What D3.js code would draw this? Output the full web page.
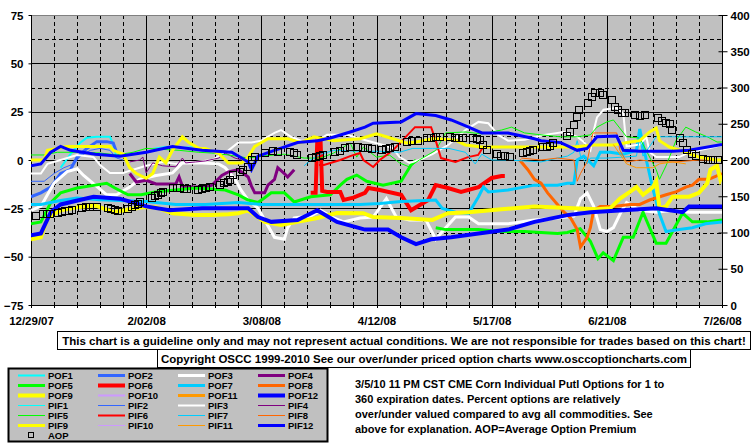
<!DOCTYPE html>
<html><head><meta charset="utf-8">
<script src="https://cdn.jsdelivr.net/npm/d3@7"></script>
<style>
body{margin:0;background:#fff}
svg{display:block}
text{font-family:"Liberation Sans",Arial,sans-serif;font-weight:bold;fill:#000}
</style>
</head><body>
<svg id="chart" width="755" height="446"></svg>
<script>
// ---------------- DATA ----------------
const startDate = new Date(2007, 11, 29);
const totalDays = 210;
const dateLabels = ["12/29/07","2/02/08","3/08/08","4/12/08","5/17/08","6/21/08","7/26/08"];
const leftTicks = [75,50,25,0,-25,-50,-75];
const rightTicks = [0,50,100,150,200,250,300,350,400];

// series values: [day offset from 12/29/07, percent]
const POF1 = [[9,-4],[12,3],[15,9],[17,11.5],[20,12],[24,12],[25,8],[26,1]];
const POF2 = [[0,-19],[3,-17],[6,-14],[9,-7],[12,-5],[14,1.5],[17,6],[20,9.5],[23,9.5],[25,8.8],[26,4]];
const POF3 = [[0,-26],[3,-24],[5,-18],[7,-12],[11,-6],[14,-4.5],[16,-8],[19.5,-13],[23,-18],[26,-18],[30,-14],[33,-10],[38,-8],[43,-6.7],[46,-1.5],[52,-1.5],[57,-2],[59,-4],[62,-10],[64,-16],[66,-20.7],[69,-25],[72,-34],[74,-40],[77,-41],[78,-35],[80,-30],[85,-29],[88,-26],[92,-30],[95,-32],[100,-30],[104,-29.5],[108,-20],[111,-29.5],[115,-31],[120,-31],[123,-41],[125,-37],[129,-29.5],[133,-29.5],[136,-33],[145,-33],[153,-31],[160,-30],[165,-29],[167,-20],[169,-17],[171,-24],[173,-36],[175,-37],[177,-35],[179,-28],[181,-22],[185,-26],[190,-27],[195,-26],[200,-27],[210,-27]];
const POF4 = [[30,-7],[32,-11.4],[35,-10.5],[38,-12.4],[44,-12.4],[45,-8.8],[46,-13.5],[48,-14],[53,-14],[55,-13],[58,-8],[60,-6.2],[63,-5],[66,-8.8],[67,-13.5],[68,-17],[71,-17],[72,-13],[74,-10],[75,-4],[77,-7],[78,-8.8],[80,-5]];
const POF5 = [[0,-33],[3,-32],[6,-22],[9,-17],[14,-14.5],[19.5,-13],[23,-12],[25.5,-14.5],[29.5,-18],[33.5,-18],[37.7,-16.5],[44,-15.5],[50,-14.5],[59,-15.5],[63,-18],[66,-20.7],[69,-22],[71,-19.5],[73,-17],[77,-17],[80,-21.7],[85,-19],[91,-18],[94,-13],[96,-10],[99,-7.8],[102,-11],[107,-13],[112.5,-11],[115.5,-2.6],[117,0],[118,null],[123,-35],[126,-36],[136,-36],[143,-37],[150,-37],[155,-37.5],[160,-38],[163,-37.5],[166.9,-35.5],[170,-42],[172.3,-51],[173.9,-48],[177,-52],[180,-40],[183,-40],[186,-27],[190,-43],[193,-43],[198,-27.5],[201,-32],[205.5,-32],[210,-31]];
const POF6 = [[85,-17],[86.5,-17],[87,10],[88,10],[88.5,-16],[90,-16.5],[94,-16.5],[95,-20.7],[98,-19.5],[101.5,-17],[102.5,-14.5],[106,-15.5],[112.5,-18],[115.5,-26],[120.7,-20.7],[123,-13],[126.7,-14.5],[130.7,-16.5],[136,-14],[140,-9.3],[143,-8.3],[144,-8.3]];
const POF7 = [[0,-23],[3,-23],[9,-21],[14,-19.7],[21,-20.5],[35,-21.5],[44,-23],[53,-23],[63,-22],[70,-23],[80,-23],[100,-23],[106,-22.5],[112.5,-21.5],[123,-20.7],[125,-25],[129,-27],[133,-27.6],[136,-19],[137.5,-14],[139,-16.5],[145,-15.5],[153,-13],[160,-13],[163,-12],[165,-12],[166,0],[168,2],[171,-3],[173,4],[176,4],[180,3],[184,5],[185,16],[187,0],[189,-15],[191,-28],[193,-37],[197,-36],[201,-35],[205,-33],[210,-32]];
const POF8 = [[148.5,0],[151,-5],[153,-10],[155,-12],[157,-17],[160,-23],[162,-27],[164,-30],[166,-36],[167,-45],[169,-40],[170,-35],[171,-26],[173,-24],[177,-24],[182,-23],[185,-23],[188,-20.7],[193,-18],[196,-16.5],[199,-14],[201,-13],[203,-10],[206,-10],[210,-7]];
const POF9 = [[0,-41],[3,-40],[5,-30],[9,-26],[14,-24.5],[19.5,-23.5],[25,-27],[30,-25.5],[34,-24.5],[38,-24.5],[43,-27.6],[50,-28.5],[55,-28.5],[60,-28],[63,-27.5],[66,-26],[71,-32],[76,-33.6],[81,-32],[87,-30],[93,-27.4],[101,-27.5],[104,-29.5],[112.5,-30],[122,-31],[126.7,-27.5],[133,-27],[143,-25.5],[153,-24],[165,-25],[172,-25.5],[176,-25],[179,-20],[182,-16.5],[184,-14],[186,-18],[189,-14],[190,-11],[191,-25],[193,-24],[195,-19],[200,-19],[203,-17],[205.5,-12],[206.5,-5],[208.5,-3],[209.5,-10],[210,-8]];
const POF10 = [];
const POF11 = [];
const POF12 = [[0,-39],[3,-38],[6,-27],[9,-23],[19,-19],[27,-20],[35,-24],[42,-26],[52,-25],[66,-25],[69,-29.5],[73,-32],[81,-31],[87,-26],[93,-32],[101.5,-36],[108.5,-36],[112.5,-40],[117,-43.5],[121.6,-41],[127.7,-40],[136,-38],[145,-36],[153,-32],[163,-28.5],[170,-27],[180,-26],[190,-25],[198,-27],[200,-24],[210,-24]];

const PIF1 = [[37,6],[41,7],[46,6.5],[50,7]];
const PIF2 = [[0,-11],[4,-11],[7,-7],[10,-4],[13,-2],[15,2],[18,5],[21,6],[24,5],[26,1],[28,0]];
const PIF3 = [[0,-7],[3,-7],[5,-2],[9,0],[14,2.6],[19,1.5],[21,-2.6],[24,-6.7],[28,-6.7],[31,-5],[35,-3],[40,-1],[44,-2],[50,-1],[55,0],[60,5],[63,9],[67,9],[70,10],[74,14],[76,15.5],[79,12],[82,10],[87,10],[90,13],[96,13],[100,11],[107,7.8],[110,6],[112,1.5],[115,-1.5],[118,0],[122,3],[127,8],[132,15.5],[136,19.7],[139,19],[142,13],[145,10],[150,10.5],[156,13],[162,14.5],[166,12],[168,9.3],[170,5],[171,15],[172,22],[174,26],[178,27],[180,24],[181,7],[185,8],[187,12],[188,4],[190,1.5],[197,1.5],[200,4],[203,5],[207,6.5],[210,7.8]];
const PIF4 = [[30,-1],[33,0],[34,1.5],[35,-6.7],[36,-4],[37,-1.5],[40,-3],[44,-3.5],[46,1],[47,-1.5],[50,-1],[53,-0.5],[57,1],[59,3.6],[62,1],[64,0]];
const PIF5 = [[0,2.6],[4,2.6],[8,4],[16,4],[21,3.6],[26,2.6],[31,4],[35,6],[45,5],[51,4],[55,3.6],[60,2.6],[66,1],[70,2],[77,3],[83,1],[88,1],[92,3.6],[97,8.8],[99,1.5],[101,6.7],[105,1.5],[109,2.5],[112,-1.5],[115,-3.6],[118,0],[123,5],[126,14],[132,14.5],[137,13.5],[143,15.5],[146,17],[150,14],[155,13],[161,12],[166,12],[170,13],[172,17],[175,19.7],[177,20.7],[181,12],[185,11.4],[188,1.5],[190,-5],[191,-10],[193,-3],[196,10],[199,17],[202,14.5],[205.5,12],[208.5,9.3],[210,9.3]];
const PIF6 = [[87.5,-2.6],[89,-2.6],[94,0],[97,2],[100,3.6],[101,0],[104,-3.6],[106,0],[110,5],[116.7,17],[121.6,17],[123,10],[124.6,1],[129,-1],[132.8,1.5],[135.9,2.6],[137.4,6.7]];
const PIF7 = [[83,-3],[85,0],[88,3],[92,5],[100,4.5],[106,4.5],[112,4],[116,6],[122,6],[127,6],[132,4],[135,-2],[137,3],[140,0],[145,0],[150,-0.5],[155,-1],[160,1],[163,2],[165,4],[166,10],[167,2],[169,-2],[170,1],[175,1],[180,1.5],[184,2],[185,12],[186,2],[190,12],[195,12],[200,12],[205,12],[210,12]];
const PIF8 = [[149,1],[155,0],[160,1],[165,0],[166,-11],[167,-7],[169,-1],[170.8,14],[178,14],[179,5],[181,-1],[185,0],[190,-1],[196,-1],[203,0],[210,0]];
const PIF9 = [[0,0],[4,0],[5,5],[11,7],[24,7],[25,5],[28,3],[30,-4],[32,-7],[35,-9.5],[37,-7],[39,1.5],[41,-1.5],[43,5],[46,12],[48,9],[51,6],[53,6],[57,3.5],[60,-1.6],[64,-1.6],[66,1.5],[68,7],[72,11],[78,11],[82,9],[86,12],[92,10],[100,11],[105,13.5],[109,11.5],[114,8.8],[117,9.3],[122,11],[129,10.3],[132,7.8],[137,6.7],[145,6.7],[165,6.7],[171,7.8],[177,7.8],[182,9.3],[185,10],[188,14.5],[190,16.5],[191,10],[194,6.7],[199,4],[203,1.5],[208,0],[210,0]];
const PIF10 = [];
const PIF11 = [[177,8],[179,3],[181,-2],[184,-4],[189,-4],[191,-2],[195,-1],[199,-2]];
const PIF12 = [[0,-3],[3,-2],[6,4],[9,7],[12,5],[19.5,3],[27,2],[35,4],[43,7],[52,5],[61,4],[64,1],[66,-1],[67,-5],[69,2],[74,5],[81,9],[87,10],[91,11.4],[97,14.5],[101.5,17],[104,19],[112.5,19.7],[117,24],[123,23],[127.7,20.7],[133,17],[137,14],[145,14],[153,11],[155,10],[161,9],[166,5],[169,6],[172,12],[178,12.4],[180,5],[185,4.5],[195,4.5],[200,5],[210,8]];

// Average option premium (right axis)
const aopDays = [1.5,3.6,4.9,5.8,8.2,9.4,10.3,11.5,12.5,15.5,16.7,17.9,20,23.4,24.3,25.5,26.4,29.5,30.7,31.6,32.5,33.1,36.8,37.7,38.6,39.5,40.1,43.2,44.4,45.3,46.5,47.4,50.8,52,53.2,54.4,57.4,58.7,59.9,60.5,61.4,63.5,64.4,66,67.2,68.1,71.1,73.6,75,78.7,80,80.9,85.4,86.6,87.8,88.8,92.4,93.9,95.4,97,99.4,100.9,102.4,103.6,106.7,107.9,109.1,110.6,114.3,115.8,117.6,120.4,121.6,123.1,124.3,127.4,128.9,130.1,131.3,134.3,135.6,136.5,137.4,138.6,141.6,142.9,144.1,145.6,149.5,150.7,151.7,152.6,155.6,156.8,157.7,158.6,162.9,163.8,165,166,166.6,169.3,170.5,171.4,172.9,173.8,176.6,177.5,178.4,179.6,180.5,183.6,185.1,186.6,190.6,191.8,193,194.2,194.8,197.3,198.2,199.4,200.9,202.1,204.3,205.8,207.3,208.8];
const aopValues = [123,125,125,125,127,128,129,130,131,134,135,135,135,134,132,131,130,133,135,138,140,142,148,150,152,154,156,161,161,161,160,160,159,160,161,163,165,168,170,172,179,183,186,190,200,204,210,213,211,211,209,207,203,204,205,207,211,213,216,218,218,217,216,215,214,215,217,218,225,226,226,230,231,232,232,232,231,231,231,230,229,228,221,214,208,206,205,204,210,211,213,214,218,218,219,223,233,239,248,260,269,279,287,292,292,290,283,273,269,265,265,262,261,262,258,254,251,250,241,230,223,214,208,205,201,200,200,200];

const seriesNames = ["POF1","POF2","POF3","POF4","POF5","POF6","POF7","POF8","POF9","POF10","POF11","POF12",
                     "PIF1","PIF2","PIF3","PIF4","PIF5","PIF6","PIF7","PIF8","PIF9","PIF10","PIF11","PIF12"];
const seriesData = [POF1,POF2,POF3,POF4,POF5,POF6,POF7,POF8,POF9,POF10,POF11,POF12,
                    PIF1,PIF2,PIF3,PIF4,PIF5,PIF6,PIF7,PIF8,PIF9,PIF10,PIF11,PIF12];

const disclaimer = "This chart is a guideline only and may not represent actual conditions. We are not responsible for trades based on this chart!";
const copyright = "Copyright OSCC 1999-2010 See our over/under priced option charts www.osccoptioncharts.com";
const noteLines = ["3/5/10 11 PM CST CME Corn Individual Putl Options for 1 to",
                   "360 expiration dates. Percent options are relatively",
                   "over/under valued compared to avg all commodities. See",
                   "above for explanation. AOP=Average Option Premium"];

// ---------------- STYLE ----------------
const palette = ["#00ffff","#3366ff","#ffffff","#800080","#00ff00","#ff0000","#00ccff","#ff6600","#ffff00","#cc99ff","#ff9900","#0000ff"];
const pofWidth = [2,3,3,3,3,4,3,3,4,2,3,4];
const pifWidth = [1,1,2,1,1,2,1,1,3,1,1,3];

// ---------------- CHART ----------------
const svg = d3.select("#chart");
const L = 31, R = 722, T = 15, B = 305;
const dayDate = d => new Date(startDate.getTime() + d * 86400000);
const x = d3.scaleTime().domain([startDate, dayDate(totalDays)]).range([L, R]);
const xd = d => x(dayDate(d));
const y = d3.scaleLinear().domain([-75, 75]).range([B, T]);
const yR = d3.scaleLinear().domain([0, 400]).range([B, T]);

// fit a text to a target width by shrinking the font if needed
function fitText(sel, target, maxFs) {
  sel.attr("font-size", maxFs);
  const w = sel.node().getComputedTextLength();
  if (w > target) sel.attr("font-size", (maxFs * target / w).toFixed(2));
  return sel;
}

svg.append("rect").attr("x", L).attr("y", T).attr("width", R - L).attr("height", B - T).attr("fill", "#c0c0c0");

// grid
const g = svg.append("g").attr("shape-rendering", "crispEdges");
d3.range(-62.5, 75, 12.5).forEach(v => {
  const solid = Math.abs(v % 25) < 1e-9;
  g.append("line").attr("x1", L).attr("x2", R).attr("y1", Math.round(y(v)) + 0.5).attr("y2", Math.round(y(v)) + 0.5)
    .attr("stroke", "#000").attr("stroke-width", 1).attr("stroke-dasharray", solid ? null : "4,3");
});
d3.range(7, totalDays, 7).forEach(d => {
  const solid = d % 35 === 0;
  const xx = Math.round(xd(d)) + 0.5;
  g.append("line").attr("x1", xx).attr("x2", xx).attr("y1", T).attr("y2", B)
    .attr("stroke", "#000").attr("stroke-width", 1).attr("stroke-dasharray", solid ? null : "4,3");
});
// frame
g.append("line").attr("x1", L).attr("x2", R).attr("y1", T + 0.5).attr("y2", T + 0.5).attr("stroke", "#808080");
g.append("line").attr("x1", L + 0.5).attr("x2", L + 0.5).attr("y1", T).attr("y2", B + 1).attr("stroke", "#000");
g.append("line").attr("x1", L).attr("x2", R + 1).attr("y1", B + 0.5).attr("y2", B + 0.5).attr("stroke", "#000");
g.append("line").attr("x1", R + 0.5).attr("x2", R + 0.5).attr("y1", T).attr("y2", B + 1).attr("stroke", "#000");

// axes
const axL = d3.axisLeft(y).tickValues(leftTicks).tickSize(3).tickPadding(5).tickFormat(d3.format("d"));
const gl = svg.append("g").attr("transform", `translate(${L + 0.5},0)`).call(axL);
gl.select(".domain").remove();
gl.selectAll("text").attr("font-size", 11.5).attr("font-family", null).attr("dy", "0.36em");

const axR = d3.axisRight(yR).tickValues(rightTicks).tickSize(5).tickPadding(3).tickFormat(d3.format("d"));
const gr = svg.append("g").attr("transform", `translate(${R + 0.5},0)`).call(axR);
gr.select(".domain").remove();
gr.selectAll(".tick line").attr("x1", -4);
gr.selectAll("text").attr("font-size", 11.5).attr("font-family", null).attr("dy", "0.36em");

const tickDates = dateLabels.map((s, i) => dayDate(i * 35));
const axB = d3.axisBottom(x).tickValues(tickDates).tickSize(0).tickPadding(12).tickFormat((d, i) => dateLabels[i]);
const gb = svg.append("g").attr("transform", `translate(0,${B})`).call(axB);
gb.select(".domain").remove();
gb.selectAll("text").attr("font-size", 11.5).attr("font-family", null);
d3.range(0, totalDays + 1, 7).forEach(d => {
  const xx = Math.round(xd(d)) + 0.5;
  svg.append("line").attr("x1", xx).attr("x2", xx).attr("y1", B - (d % 35 === 0 ? 4 : 2)).attr("y2", B + 3)
    .attr("stroke", "#000").attr("shape-rendering", "crispEdges");
});

// lines
svg.append("clipPath").attr("id", "clip").append("rect").attr("x", L).attr("y", T).attr("width", R - L).attr("height", B - T);
const plot = svg.append("g").attr("clip-path", "url(#clip)");
const line = d3.line().defined(d => d[1] != null).x(d => xd(d[0])).y(d => y(d[1]));
seriesData.forEach((data, i) => {
  if (!data.length) return;
  const k = i % 12, isPOF = i < 12;
  plot.append("path").datum(data).attr("d", line).attr("fill", "none")
    .attr("stroke", palette[k]).attr("stroke-width", isPOF ? pofWidth[k] : pifWidth[k])
    .attr("stroke-linejoin", "miter").attr("stroke-linecap", "butt");
});
const aop = aopDays.map((d, i) => [d, aopValues[i]]);
plot.selectAll("rect.aop").data(aop).join("rect").attr("class", "aop")
  .attr("x", d => Math.round(xd(d[0])) - 3.5).attr("y", d => Math.round(yR(d[1])) - 3.5)
  .attr("width", 7).attr("height", 7).attr("fill", "none").attr("stroke", "#000").attr("stroke-width", 1);

// disclaimer boxes
svg.append("rect").attr("x", 57.5).attr("y", 331.5).attr("width", 693).attr("height", 18).attr("fill", "#fff").attr("stroke", "#000");
fitText(svg.append("text").attr("x", 404).attr("y", 345).attr("text-anchor", "middle").text(disclaimer), 684, 12);
svg.append("rect").attr("x", 157.5).attr("y", 349.5).attr("width", 533).attr("height", 18).attr("fill", "#fff").attr("stroke", "#000");
fitText(svg.append("text").attr("x", 424).attr("y", 363).attr("text-anchor", "middle").text(copyright), 526, 12);

// legend
svg.append("rect").attr("x", 8.5).attr("y", 368.5).attr("width", 319).attr("height", 73).attr("fill", "#c0c0c0").attr("stroke", "#000").attr("stroke-width", 2);
const lg = svg.append("g");
seriesNames.forEach((name, i) => {
  const col = i % 4, row = Math.floor(i / 4);
  const lx = 18 + col * 80, ly = 375.5 + row * 10;
  const k = i % 12, isPOF = i < 12;
  lg.append("line").attr("x1", lx).attr("x2", lx + 27).attr("y1", ly).attr("y2", ly)
    .attr("stroke", palette[k]).attr("stroke-width", isPOF ? pofWidth[k] : pifWidth[k]);
  lg.append("text").attr("x", lx + 30).attr("y", ly + 3.5).attr("font-size", 9.5).text(name);
});
lg.append("rect").attr("x", 28.5).attr("y", 432.5).attr("width", 5).attr("height", 5).attr("fill", "none").attr("stroke", "#000");
lg.append("text").attr("x", 48).attr("y", 439).attr("font-size", 9.5).text("AOP");

// note
noteLines.forEach((t, i) => {
  svg.append("text").attr("x", 355).attr("y", 388 + i * 15).attr("font-size", 11).text(t);
});
</script>
</body></html>
